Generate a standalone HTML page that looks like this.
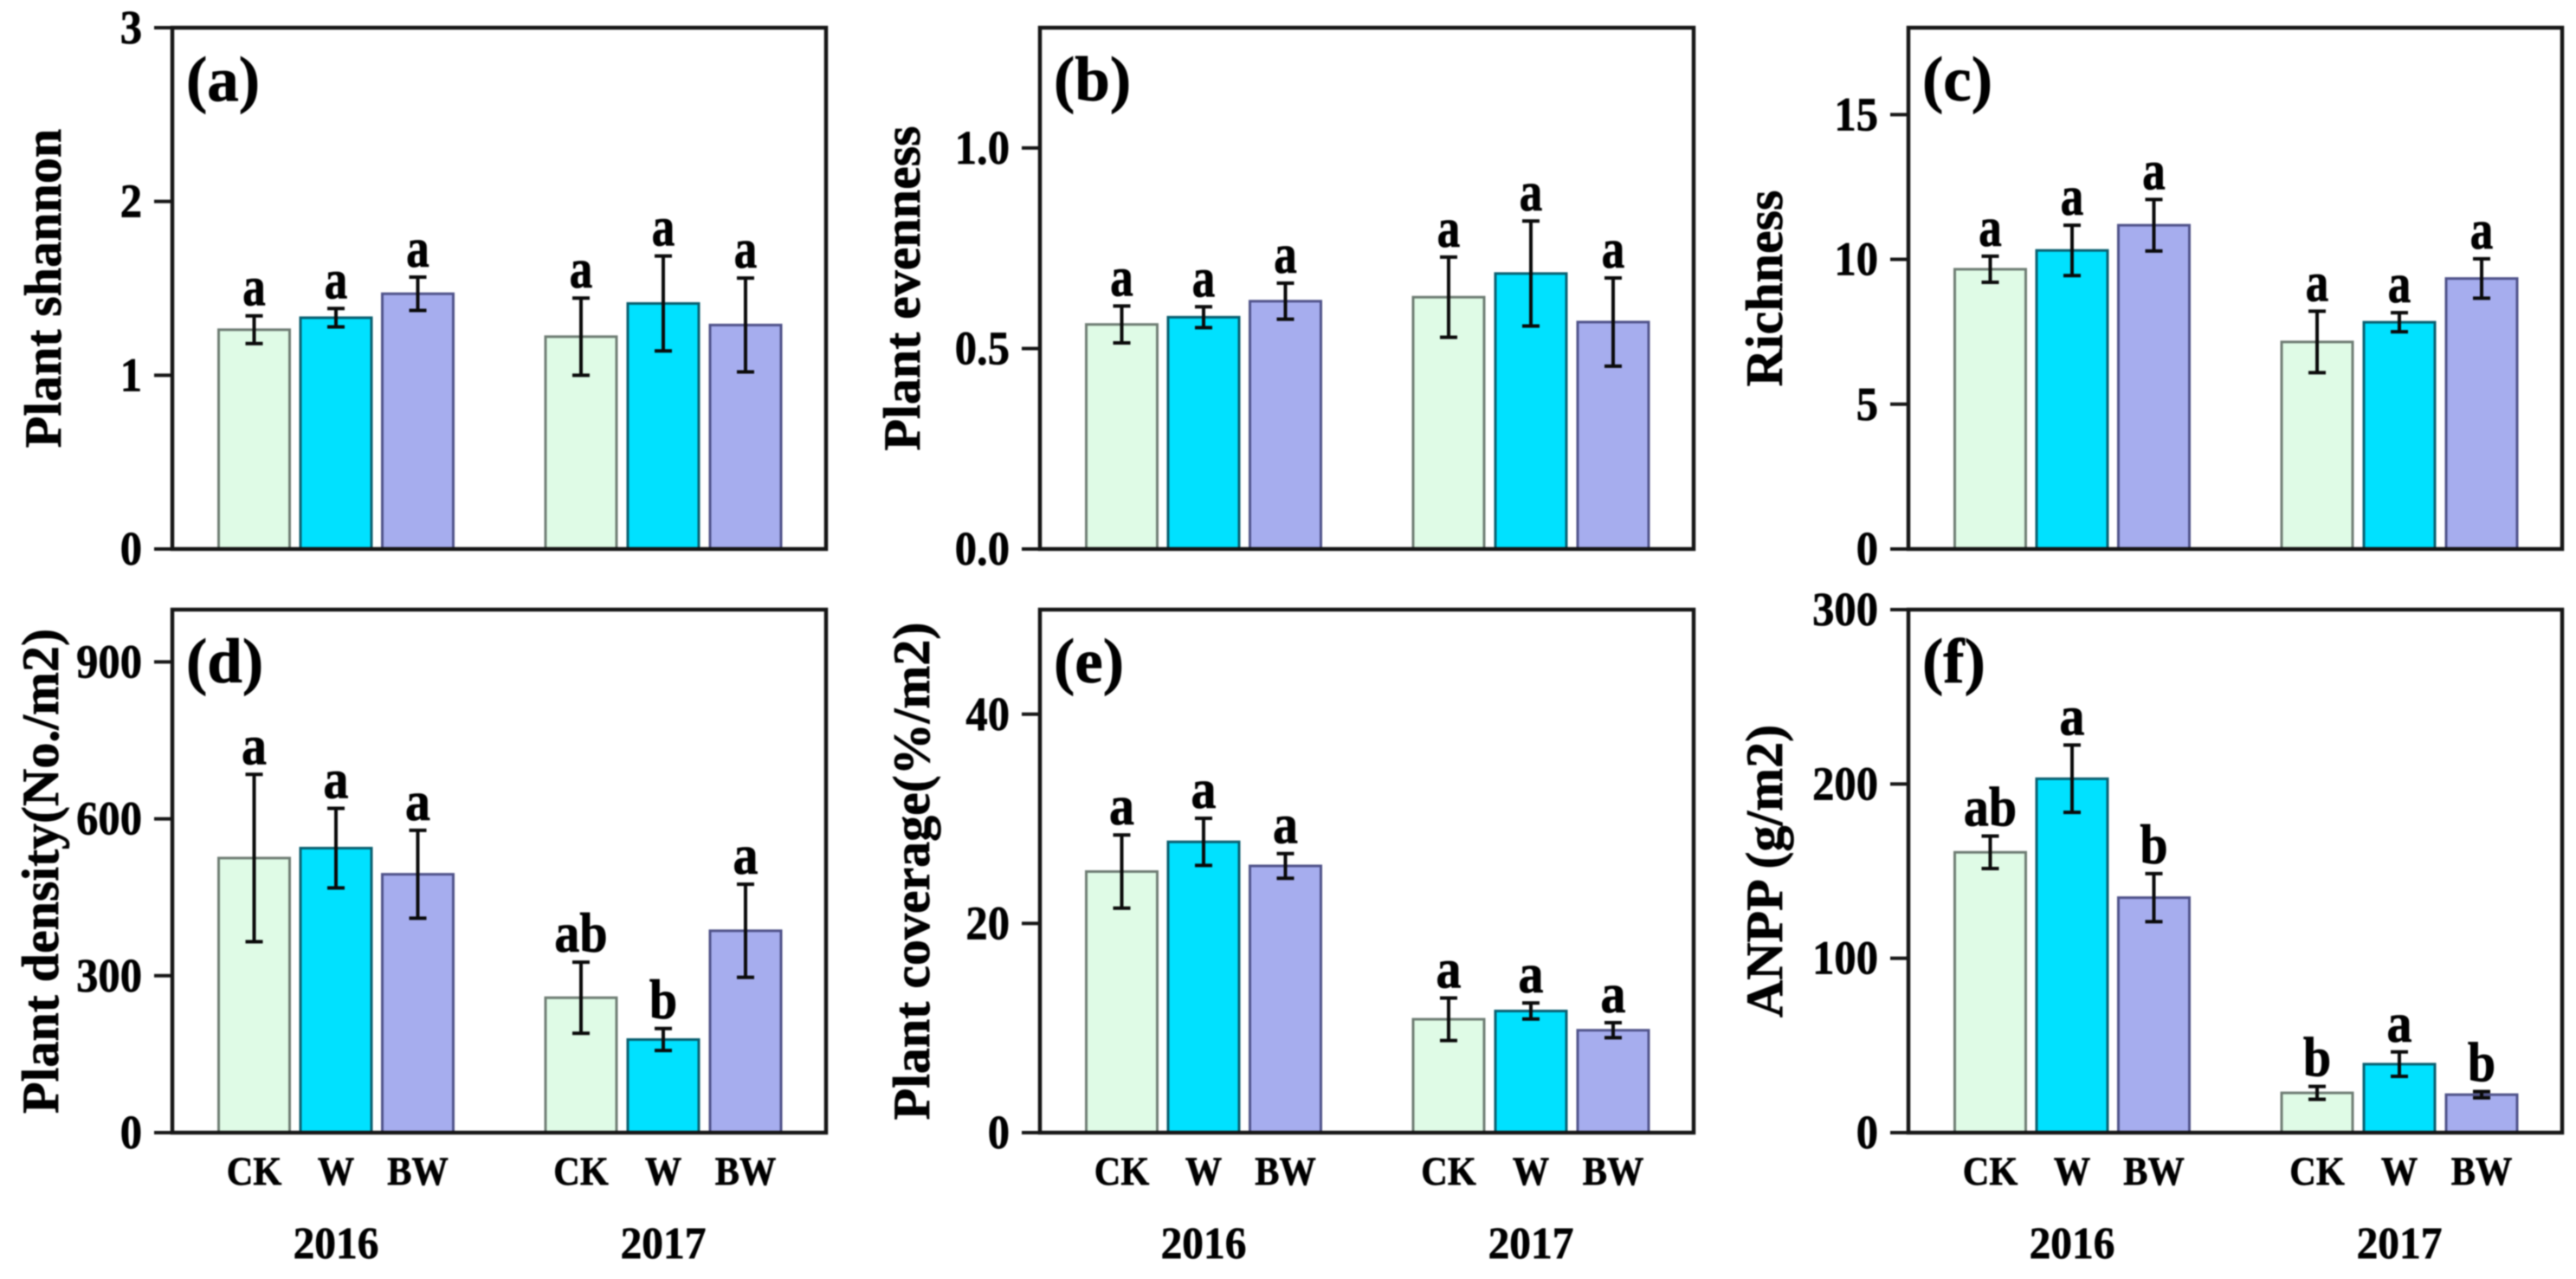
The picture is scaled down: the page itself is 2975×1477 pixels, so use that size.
<!DOCTYPE html>
<html lang="en">
<head>
<meta charset="utf-8">
<title>Plant community metrics by treatment and year</title>
<style>
html,body{margin:0;padding:0;background:#fff;width:2975px;height:1477px;overflow:hidden}
svg{display:block;filter:blur(0.9px)}
text{font-family:"Liberation Serif",serif;font-weight:700;fill:#000;stroke:#000;stroke-width:0.7px}
</style>
</head>
<body>
<svg id="chart" xmlns="http://www.w3.org/2000/svg" width="2975" height="1477" viewBox="0 0 2975 1477"></svg>
<script>
const treatments = ["CK", "W", "BW"];
const years = ["2016", "2017"];
const barFills = ["#dffbe6", "#00e1ff", "#a6adee"];
const barStrokes = ["#6f7d74", "#0a5f70", "#50538a"];

const shannonMeans = [1.262, 1.331, 1.469, 1.222, 1.413, 1.289];
const shannonErrors = [0.08, 0.053, 0.096, 0.222, 0.273, 0.27];
const shannonLetters = ["a", "a", "a", "a", "a", "a"];
const shannonTicks = ["0", "1", "2", "3"];

const evennessMeans = [0.56, 0.578, 0.618, 0.628, 0.687, 0.566];
const evennessErrors = [0.046, 0.026, 0.045, 0.1, 0.131, 0.11];
const evennessLetters = ["a", "a", "a", "a", "a", "a"];
const evennessTicks = ["0.0", "0.5", "1.0"];

const richnessMeans = [9.66, 10.31, 11.18, 7.15, 7.83, 9.34];
const richnessErrors = [0.45, 0.87, 0.89, 1.06, 0.33, 0.68];
const richnessLetters = ["a", "a", "a", "a", "a", "a"];
const richnessTicks = ["0", "5", "10", "15"];

const densityMeans = [525, 544, 494, 258, 178, 386];
const densityErrors = [160, 76, 84, 68, 21, 89];
const densityLetters = ["a", "a", "a", "ab", "b", "a"];
const densityTicks = ["0", "300", "600", "900"];

const coverageMeans = [24.96, 27.8, 25.5, 10.84, 11.63, 9.79];
const coverageErrors = [3.5, 2.25, 1.18, 2.03, 0.77, 0.72];
const coverageLetters = ["a", "a", "a", "a", "a", "a"];
const coverageTicks = ["0", "20", "40"];

const anppMeans = [160.8, 203, 134.8, 22.8, 39.3, 21.8];
const anppErrors = [9.3, 19.3, 13.8, 3.7, 7, 1.8];
const anppLetters = ["ab", "a", "b", "b", "a", "b"];
const anppTicks = ["0", "100", "200", "300"];

const SVG_NS = "http://www.w3.org/2000/svg";
const root = document.getElementById("chart");

function shape(parent, tag, attrs, content) {
  const el = document.createElementNS(SVG_NS, tag);
  for (const key in attrs) el.setAttribute(key, attrs[key]);
  if (content !== undefined) el.textContent = content;
  parent.appendChild(el);
  return el;
}

function drawPanel(p) {
  const g = shape(root, "g", {});
  
  

  const frameW = 755;
  const frameH = p.bottom - p.top;
  const yScale = v => p.bottom - (v / p.max) * frameH;
  const barX = i => p.left + 52 + (i < 3 ? i * 94.5 : 377.5 + (i - 3) * 95);
  const barW = 85;
  const barCenter = i => barX(i) + barW / 2;

  p.means.forEach((m, i) => {
    const t = i % 3;
    const bar = shape(g, "rect", {
      x: barX(i) + 1.5, y: yScale(m), width: barW - 3, height: p.bottom - yScale(m),
      fill: barFills[t], stroke: barStrokes[t], "stroke-width": 3
    });
    
    
  });

  const frame = shape(g, "rect", {
    x: p.left, y: p.top, width: frameW, height: frameH,
    fill: "none", stroke: "#161616", "stroke-width": 4.5
  });
  
  

  p.means.forEach((m, i) => {
    const cx = barCenter(i);
    const hi = yScale(m + p.errors[i]);
    const lo = yScale(m - p.errors[i]);
    const err = shape(g, "path", {
      d: "M" + cx + " " + hi + "V" + lo + "M" + (cx - 10) + " " + hi + "H" + (cx + 10) + "M" + (cx - 10) + " " + lo + "H" + (cx + 10),
      fill: "none", stroke: "#0a0a0a", "stroke-width": 4
    });
    
    

    const letter = shape(g, "text", {
      transform: "translate(" + cx + " " + (hi - 12) + ") scale(1 " + p.letterStretch + ")",
      "text-anchor": "middle", "font-size": p.letterSize
    }, p.letters[i]);
    
    
  });

  p.ticks.forEach(label => {
    const y = yScale(Number(label));
    const tick = shape(g, "line", {
      x1: p.left - 21, x2: p.left, y1: y, y2: y, stroke: "#161616", "stroke-width": 4
    });
    
    

    const tickLabel = shape(g, "text", {
      transform: "translate(" + (p.left - 35) + " " + (y + 18) + ") scale(0.92 1)",
      "text-anchor": "end", "font-size": 55
    }, label);
    
    
  });

  const title = shape(g, "text", {
    transform: "translate(" + p.titleX + " " + ((p.top + p.bottom) / 2) + ") rotate(-90)",
    "text-anchor": "middle", "font-size": 60
  }, p.title);
  
  

  const tag = shape(g, "text", {
    x: p.left + 16, y: p.top + 84, "font-size": 73
  }, "(" + p.id + ")");
  
  

  if (p.showX) {
    p.means.forEach((m, i) => {
      const catLabel = shape(g, "text", {
        transform: "translate(" + barCenter(i) + " 1368) scale(0.9 1)",
        "text-anchor": "middle", "font-size": 47
      }, treatments[i % 3]);
      
      
    });
    years.forEach((yr, k) => {
      const yearLabel = shape(g, "text", {
        transform: "translate(" + barCenter(k * 3 + 1) + " 1453) scale(0.95 1)",
        "text-anchor": "middle", "font-size": 52
      }, yr);
      
      
    });
  }
}

drawPanel({ id: "a", left: 199, top: 32, bottom: 634, max: 3, titleX: 70, title: "Plant shannon", means: shannonMeans, errors: shannonErrors, letters: shannonLetters, ticks: shannonTicks, showX: false, letterSize: 53, letterStretch: 1.22 });
drawPanel({ id: "b", left: 1201, top: 32, bottom: 634, max: 1.3, titleX: 1062, title: "Plant evenness", means: evennessMeans, errors: evennessErrors, letters: evennessLetters, ticks: evennessTicks, showX: false, letterSize: 53, letterStretch: 1.22 });
drawPanel({ id: "c", left: 2204, top: 32, bottom: 634, max: 18, titleX: 2058, title: "Richness", means: richnessMeans, errors: richnessErrors, letters: richnessLetters, ticks: richnessTicks, showX: false, letterSize: 53, letterStretch: 1.22 });
drawPanel({ id: "d", left: 199, top: 704, bottom: 1308, max: 1000, titleX: 67, title: "Plant density(No./m2)", means: densityMeans, errors: densityErrors, letters: densityLetters, ticks: densityTicks, showX: true, letterSize: 58, letterStretch: 1.12 });
drawPanel({ id: "e", left: 1201, top: 704, bottom: 1308, max: 50, titleX: 1073, title: "Plant coverage(%/m2)", means: coverageMeans, errors: coverageErrors, letters: coverageLetters, ticks: coverageTicks, showX: true, letterSize: 58, letterStretch: 1.12 });
drawPanel({ id: "f", left: 2204, top: 704, bottom: 1308, max: 300, titleX: 2058, title: "ANPP (g/m2)", means: anppMeans, errors: anppErrors, letters: anppLetters, ticks: anppTicks, showX: true, letterSize: 58, letterStretch: 1.12 });
</script>
</body>
</html>
